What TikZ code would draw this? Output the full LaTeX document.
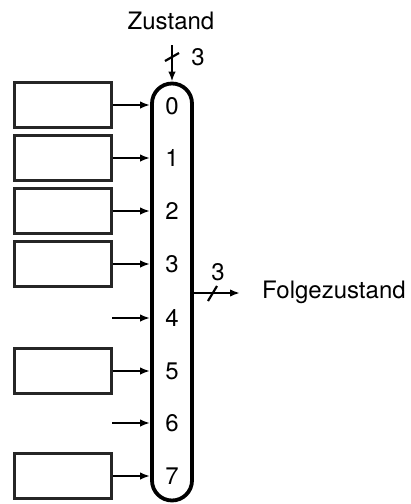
\documentclass[tikz,border=0pt]{standalone}
\usepackage{fontspec}
\setmainfont{TeX Gyre Heros}
\usetikzlibrary{arrows.meta}
\usetikzlibrary{positioning}
\tikzset{
    reg/.style={
           rectangle,
           draw=black!85, line width=2.4pt,
           minimum width=97pt,
           minimum height=45pt,
           inner sep=0,
           },
    mux/.style={
           rectangle,
           rounded corners=20pt,
           draw=black, line width=3.8pt,
           minimum width=40pt,
           minimum height=417pt,
           inner sep=0,
           },
    pil/.style={
           ->,
           line width=2.2pt,
           },
    txt/.style={
           inner sep=0,
           }
}

\begin{document}
\begin{tikzpicture}[x=1pt,y=-1pt,>={Latex[length=10pt,width=7.5pt]},font=\fontsize{24}{28}\selectfont]
\useasboundingbox (0,0) rectangle (411,504);
% multiplexer
\node[mux] (m) at (172,292) {};
\node[txt] (n0) at (172,106) {0};
\node[txt] (n1) at (172,158) {1};
\node[txt] (n2) at (172,211) {2};
\node[txt] (n3) at (172,264) {3};
\node[txt] (n4) at (172,318) {4};
\node[txt] (n5) at (172,371) {5};
\node[txt] (n6) at (172,423) {6};
\node[txt] (n7) at (172,476) {7};
% register inputs
\node[reg] (b0) at (63,105) {};
\node[reg] (b1) at (63,158) {};
\node[reg] (b2) at (63,211) {};
\node[reg] (b3) at (63,264) {};
\node[reg] (b5) at (63,371) {};
\node[reg] (b7) at (63,476) {};
\coordinate (c4) at (112,318);
\coordinate (c6) at (112,423);
\path (b0) edge[pil] (m.west |- b0);
\path (b1) edge[pil] (m.west |- b1);
\path (b2) edge[pil] (m.west |- b2);
\path (b3) edge[pil] (m.west |- b3);
\path (c4) edge[pil] (m.west |- c4);
\path (b5) edge[pil] (m.west |- b5);
\path (c6) edge[pil] (m.west |- c6);
\path (b7) edge[pil] (m.west |- b7);
% select
\node[txt] (zst) at (171,21) {Zustand};
\coordinate (zin) at (172,45);
\path (zin) edge[pil] (m.north);
\draw[line width=2.2pt] (165,61) -- (179,53);
\node[txt] (w1) at (198,57) {3};
% output
\coordinate (aus) at (240,293);
\path (m.east |- aus) edge[pil] (aus);
\draw[line width=2.2pt] (208,301) -- (217,286);
\node[txt] (w2) at (218,272) {3};
\node[txt, anchor=west] (fz) at (262,292) {Folgezustand};
\end{tikzpicture}
\end{document}
